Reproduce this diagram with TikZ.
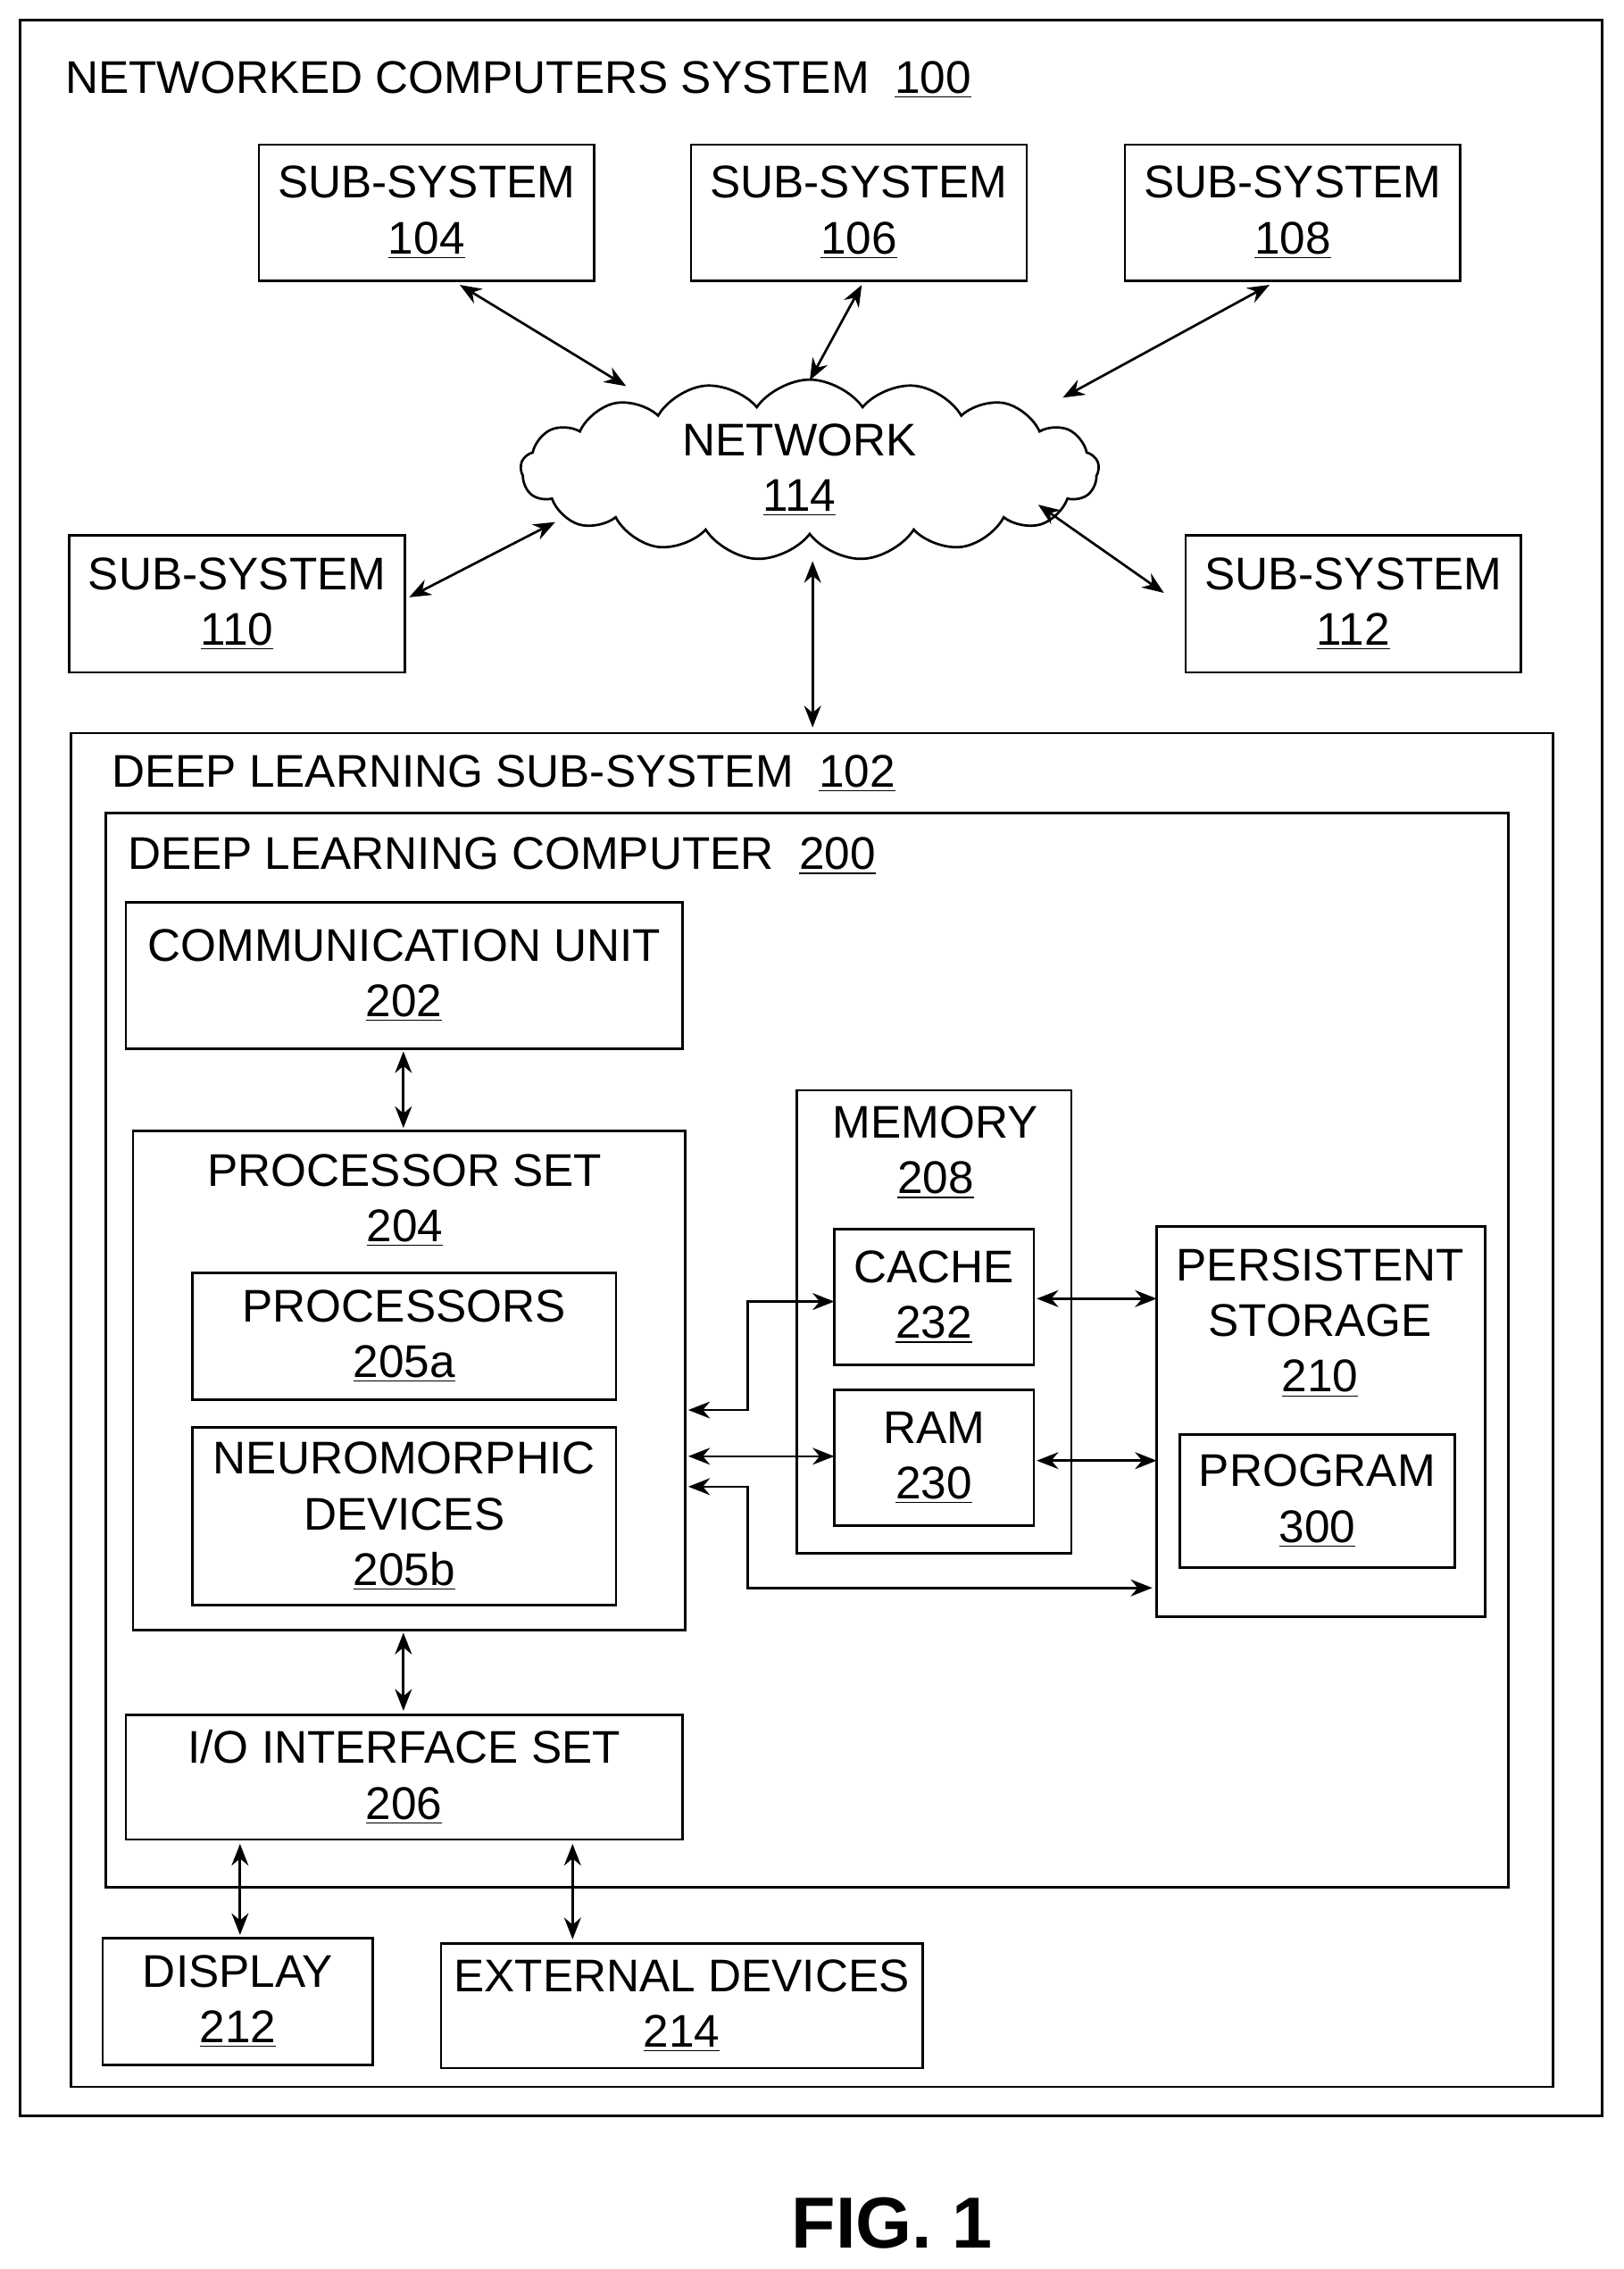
\documentclass[tikz,border=0pt]{standalone}
\usepackage{fontspec}
\setmainfont{Liberation Sans}
\usetikzlibrary{shapes.symbols,calc,arrows.meta}
\begin{document}
\begin{tikzpicture}[x=0.6pt,y=-0.6pt,
  box/.style={draw,line width=1pt,inner sep=0pt},
  lbl/.style={font=\fontsize{19}{23}\selectfont,align=center,inner sep=0pt},
  tl/.style={font=\fontsize{19}{23}\selectfont,anchor=west,inner sep=0pt},
  arr/.style={line width=1pt,{Stealth[length=9pt,width=7pt]}-{Stealth[length=9pt,width=7pt]}}]
\useasboundingbox (0,0) rectangle (1123,1569);
\newcommand{\bx}[5]{\draw[box] (#2,#3) rectangle (#4,#5); \coordinate (#1) at ({(#2+#4)/2},{(#3+#5)/2});}
\draw[box] (14,14) rectangle (1108,1463);
\node[tl] at (45,55) {NETWORKED COMPUTERS SYSTEM\ \ \underline{100}};
\draw[box] (179,100) rectangle (411,194) node[lbl,midway] (s104) {SUB-SYSTEM\\\underline{104}};
\draw[box] (478,100) rectangle (710,194) node[lbl,midway] (s106) {SUB-SYSTEM\\\underline{106}};
\draw[box] (778,100) rectangle (1010,194) node[lbl,midway] (s108) {SUB-SYSTEM\\\underline{108}};
\draw[box] (48,370) rectangle (280,465) node[lbl,midway] (s110) {SUB-SYSTEM\\\underline{110}};
\draw[box] (820,370) rectangle (1052,465) node[lbl,midway] (s112) {SUB-SYSTEM\\\underline{112}};
\node[cloud,draw,line width=1pt,cloud puffs=17,cloud puff arc=110,aspect=3.3,minimum width=400*0.6pt,minimum height=125*0.6pt] (net) at (560,325) {};
\node[lbl] at (553,325) {NETWORK\\\underline{114}};
\coordinate (a104) at (318,197); \coordinate (c104) at (433,267);
\coordinate (a106) at (596,197); \coordinate (c106) at (560,263);
\coordinate (a108) at (878,197); \coordinate (c108) at (735,275);
\coordinate (a110) at (283,413); \coordinate (c110) at (384,361);
\coordinate (a112) at (805,410); \coordinate (c112) at (718,349);
\coordinate (cn) at (562,388); \coordinate (dl) at (562,503);
\draw[arr] (a104)--(c104); \draw[arr] (a106)--(c106); \draw[arr] (a108)--(c108);
\draw[arr] (a110)--(c110); \draw[arr] (a112)--(c112); \draw[arr] (cn)--(dl);
\draw[box] (49,507) rectangle (1074,1443);
\node[tl] at (77,535) {DEEP LEARNING SUB-SYSTEM\ \ \underline{102}};
\draw[box] (73,562) rectangle (1043,1305);
\node[tl] at (88,592) {DEEP LEARNING COMPUTER\ \ \underline{200}};
\draw[box] (87,624) rectangle (472,725) node[lbl,midway] (comm) {COMMUNICATION UNIT\\\underline{202}};
\draw[box] (92,782) rectangle (474,1127);
\node[lbl] (proc) at (280,830) {PROCESSOR SET\\\underline{204}};
\draw[box] (133,880) rectangle (426,968) node[lbl,midway] {PROCESSORS\\\underline{205a}};
\draw[box] (133,987) rectangle (426,1110) node[lbl,midway] {NEUROMORPHIC\\DEVICES\\\underline{205b}};
\draw[box] (551,754) rectangle (741,1074);
\node[lbl] at (647,797) {MEMORY\\\underline{208}};
\draw[box] (577,850) rectangle (715,944) node[lbl,midway] (cache) {CACHE\\\underline{232}};
\draw[box] (577,961) rectangle (715,1055) node[lbl,midway] (ram) {RAM\\\underline{230}};
\draw[box] (800,848) rectangle (1027,1118);
\node[lbl] at (913,915) {PERSISTENT\\STORAGE\\\underline{210}};
\draw[box] (816,992) rectangle (1006,1084) node[lbl,midway] {PROGRAM\\\underline{300}};
\draw[box] (87,1186) rectangle (472,1272) node[lbl,midway] (io) {I/O INTERFACE SET\\\underline{206}};
\draw[box] (71,1340) rectangle (258,1428) node[lbl,midway] (disp) {DISPLAY\\\underline{212}};
\draw[box] (305,1344) rectangle (638,1430) node[lbl,midway] (ext) {EXTERNAL DEVICES\\\underline{214}};
\draw[arr] (279,727)--(279,780);
\draw[arr] (279,1129)--(279,1183);
\draw[arr] (476,975)--(517,975)--(517,900)--(577,900);
\draw[arr] (476,1007)--(577,1007);
\draw[arr] (476,1028)--(517,1028)--(517,1098)--(797,1098);
\draw[arr] (717,898)--(800,898);
\draw[arr] (717,1010)--(800,1010);
\draw[arr] (166,1275)--(166,1338);
\draw[arr] (396,1275)--(396,1341);
\node[font=\bfseries\fontsize{30}{34}\selectfont,inner sep=0pt] at (617,1537) {FIG. 1};
\end{tikzpicture}
\end{document}
